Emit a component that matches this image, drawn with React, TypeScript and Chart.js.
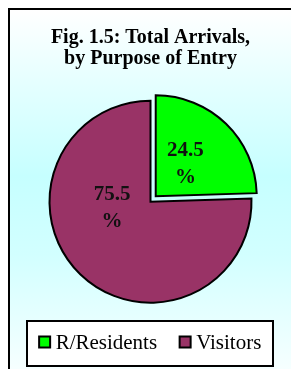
import React, { useEffect, useRef } from "react";
import { Chart, registerables } from "chart.js";

Chart.register(...registerables);

const titleLines = ["Fig. 1.5: Total Arrivals,", "by Purpose of Entry"];
const categories = ["R/Residents", "Visitors"];
const shares = [24.5, 75.5];
const sliceColors = ["#00ff00", "#993366"];
const sliceExplode = [7.5, 0];

// label anchor relative to pie centre, in units of the radius (style only)
const labelAnchors = [
  [0.346, -0.385],
  [-0.38, 0.045],
];

const SERIF = "'Liberation Serif', 'Times New Roman', serif";

const explodePlugin = {
  id: "explodeSlices",
  beforeDatasetDraw(chart: any, args: any) {
    const ctx = chart.ctx;
    const meta = args.meta;
    meta.data.forEach((arc: any, i: number) => {
      const mid = (arc.startAngle + arc.endAngle) / 2;
      const d = sliceExplode[i] || 0;
      ctx.save();
      ctx.translate(Math.cos(mid) * d, Math.sin(mid) * d);
      arc.draw(ctx, chart.chartArea);
      ctx.restore();
    });
    return false;
  },
};

const labelPlugin = {
  id: "sliceLabels",
  afterDatasetsDraw(chart: any) {
    const ctx = chart.ctx;
    const meta = chart.getDatasetMeta(0);
    ctx.save();
    ctx.fillStyle = "#111";
    ctx.font = `bold 21px ${SERIF}`;
    ctx.textAlign = "center";
    ctx.textBaseline = "alphabetic";
    meta.data.forEach((arc: any, i: number) => {
      const r = arc.outerRadius;
      const cx = arc.x + labelAnchors[i][0] * r;
      const cy = arc.y + labelAnchors[i][1] * r;
      const v = chart.data.datasets[0].data[i];
      ctx.fillText(v.toFixed(1), cx, cy - 13.5 + 7);
      ctx.fillText("%", cx, cy + 13.5 + 7);
    });
    ctx.restore();
  },
};

const legendBox = { x: 27, y: 321, w: 246, h: 45 };

const legendPlugin = {
  id: "boxedLegend",
  afterDraw(chart: any) {
    const ctx = chart.ctx;
    ctx.save();
    ctx.fillStyle = "#ffffff";
    ctx.fillRect(legendBox.x, legendBox.y, legendBox.w, legendBox.h);
    ctx.lineWidth = 2;
    ctx.strokeStyle = "#000";
    ctx.strokeRect(legendBox.x, legendBox.y, legendBox.w, legendBox.h);
    ctx.font = `21px ${SERIF}`;
    const box = 11;
    const gap = 5;
    const itemGap = 22;
    const labels: string[] = chart.data.labels;
    const colors: string[] = chart.data.datasets[0].backgroundColor;
    const widths = labels.map((l) => ctx.measureText(l).width);
    let total = 0;
    widths.forEach((w, i) => {
      total += box + 1 + gap + w + (i < widths.length - 1 ? itemGap : 0);
    });
    let x = legendBox.x + (legendBox.w - total) / 2;
    const midY = legendBox.y + legendBox.h / 2 - 1.5;
    ctx.textBaseline = "alphabetic";
    ctx.textAlign = "left";
    labels.forEach((l, i) => {
      ctx.fillStyle = colors[i];
      ctx.fillRect(x + 0.5, midY - box / 2, box, box);
      ctx.lineWidth = 2;
      ctx.strokeStyle = "#000";
      ctx.strokeRect(x + 0.5, midY - box / 2, box, box);
      ctx.fillStyle = "#000";
      ctx.fillText(l, x + box + 1 + gap, midY + 7);
      x += box + 1 + gap + widths[i] + itemGap;
    });
    ctx.restore();
  },
};

export default function App() {
  const ref = useRef<HTMLCanvasElement | null>(null);

  useEffect(() => {
    if (!ref.current) return;
    const chart = new Chart(ref.current, {
      type: "pie",
      data: {
        labels: categories,
        datasets: [
          {
            data: shares,
            backgroundColor: sliceColors,
            borderColor: "#000",
            borderWidth: 2,
            borderJoinStyle: "miter",
            radius: 101,
          } as any,
        ],
      },
      options: {
        responsive: false,
        animation: false,
        radius: 101,
        rotation: 0,
        layout: { padding: { left: 10, right: 0, top: 0, bottom: 42 } },
        plugins: {
          legend: { display: false },
          tooltip: { enabled: false },
          title: {
            display: true,
            text: titleLines,
            color: "#000",
            font: { family: SERIF, size: 20, weight: "bold", lineHeight: 1.06 },
            padding: { top: 27, bottom: 7 },
          },
        },
      } as any,
      plugins: [explodePlugin, labelPlugin, legendPlugin],
    });
    return () => chart.destroy();
  }, []);

  return (
    <div>
      <div
        style={{
          position: "fixed",
          left: 8,
          top: 8,
          width: 300,
          height: 380,
          boxSizing: "border-box",
          borderLeft: "2px solid #000",
          borderTop: "2px solid #000",
          background:
            "linear-gradient(to bottom, #ffffff 0%, #e4ffff 20%, #c6ffff 44%, #d2ffff 65%, #f6ffff 95%, #ffffff 100%)",
        }}
      />
      <canvas
        ref={ref}
        width={291}
        height={369}
        style={{ position: "fixed", left: 0, top: 0, width: 291, height: 369 }}
      />
    </div>
  );
}
